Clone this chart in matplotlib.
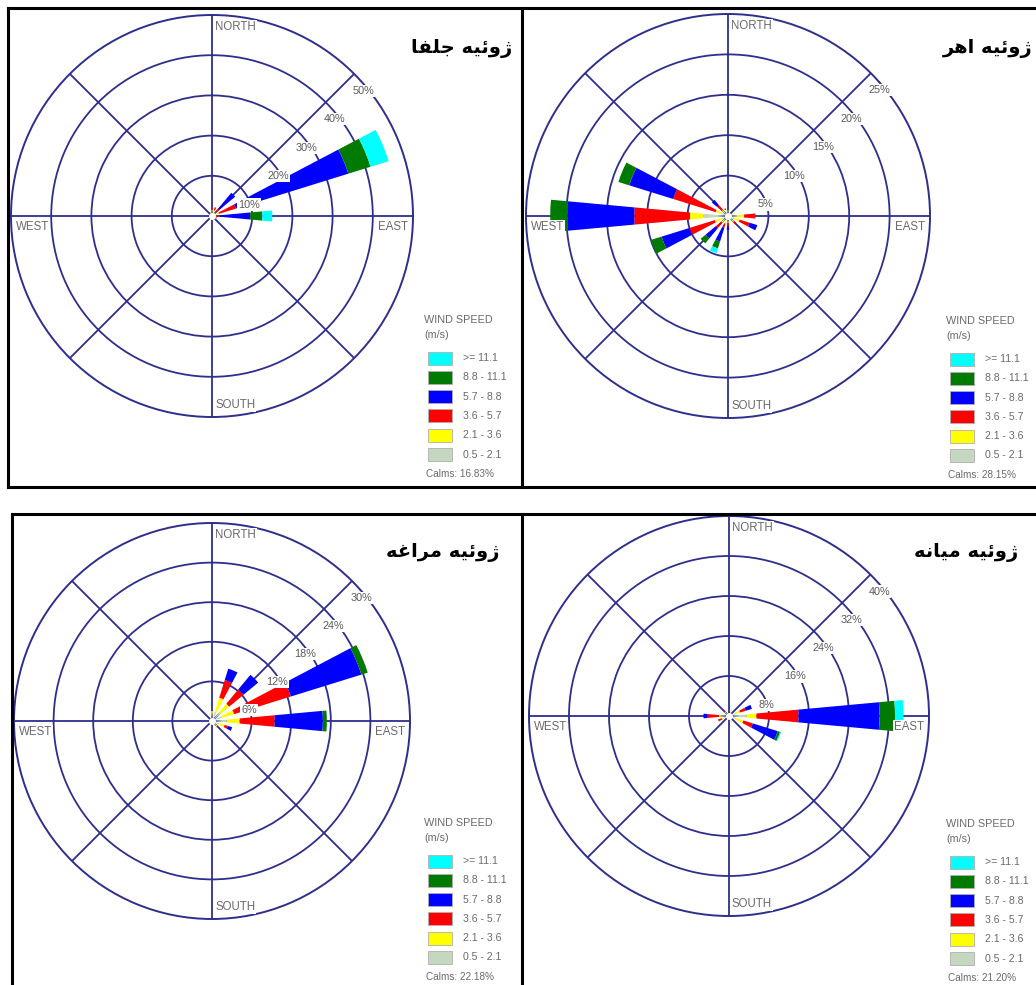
import numpy as np
import matplotlib
matplotlib.use("Agg")
import matplotlib.pyplot as plt
from matplotlib.patches import Rectangle

W, H, DPI = 1036, 985, 100

# ---------------- data ----------------
DIRECTIONS = ['N', 'NNE', 'NE', 'ENE', 'E', 'ESE', 'SE', 'SSE',
              'S', 'SSW', 'SW', 'WSW', 'W', 'WNW', 'NW', 'NNW']
# speed classes low -> high (m/s)
SPEED_CLASSES = ['0.5 - 2.1', '2.1 - 3.6', '3.6 - 5.7', '5.7 - 8.8', '8.8 - 11.1', '>= 11.1']
CLASS_COLORS = ['#c4d8c0', '#ffff00', '#ff0000', '#0000ff', '#007a00', '#00ffff']

# frequencies (%) per direction, one value per speed class (low -> high)
jolfa_freq = {
    'N':   [1.0, 0.6, 0.5, 0.0, 0.0, 0.0],
    'NNE': [0.8, 0.7, 0.8, 0.0, 0.0, 0.0],
    'NE':  [0.6, 0.6, 1.2, 5.1, 0.0, 0.0],
    'ENE': [0.8, 1.0, 4.4, 29.3, 5.8, 4.7],
    'E':   [0.6, 0.5, 0.9, 7.5, 3.0, 2.5],
    'ESE': [0.6, 0.4, 0.3, 0.0, 0.0, 0.0],
    'NNW': [0.8, 0.3, 0.0, 0.0, 0.0, 0.0],
}
ahar_freq = {
    'N':   [0.5, 0.2, 0.0, 0.0, 0.0, 0.0],
    'ENE': [0.5, 0.3, 0.0, 0.0, 0.0, 0.0],
    'E':   [1.0, 1.0, 1.4, 0.0, 0.0, 0.0],
    'ESE': [0.8, 0.7, 1.3, 1.0, 0.0, 0.0],
    'SE':  [0.6, 0.4, 0.3, 0.0, 0.0, 0.0],
    'S':   [0.6, 0.3, 0.4, 0.4, 0.0, 0.0],
    'SSW': [0.5, 0.5, 0.5, 1.8, 0.9, 0.6],
    'SW':  [0.6, 0.5, 0.9, 1.6, 0.8, 0.0],
    'WSW': [0.8, 0.9, 3.3, 3.6, 1.4, 0.0],
    'W':   [3.0, 1.7, 6.9, 8.3, 2.1, 0.0],
    'WNW': [0.8, 0.8, 5.5, 5.7, 1.4, 0.0],
    'NW':  [0.5, 0.5, 0.8, 0.8, 0.0, 0.0],
    'NNW': [0.5, 0.3, 0.2, 0.0, 0.0, 0.0],
}
maragheh_freq = {
    'N':   [1.0, 0.5, 0.0, 0.0, 0.0, 0.0],
    'NNE': [1.5, 2.2, 2.8, 1.8, 0.0, 0.0],
    'NE':  [1.5, 1.9, 2.8, 2.9, 0.0, 0.0],
    'ENE': [1.5, 2.0, 9.0, 11.2, 1.0, 0.0],
    'E':   [2.2, 2.0, 5.3, 7.3, 0.6, 0.0],
    'ESE': [1.2, 0.8, 0.5, 0.7, 0.0, 0.0],
    'SE':  [0.8, 0.3, 0.0, 0.0, 0.0, 0.0],
}
mianeh_freq = {
    'NNE': [1.0, 0.5, 0.0, 0.0, 0.0, 0.0],
    'ENE': [1.5, 0.8, 1.2, 1.3, 0.0, 0.0],
    'E':   [3.5, 2.0, 8.4, 16.2, 3.1, 1.7],
    'ESE': [1.5, 1.5, 2.0, 5.2, 0.5, 0.2],
    'SSE': [1.0, 0.5, 0.0, 0.0, 0.0, 0.0],
    'WSW': [1.0, 0.5, 0.8, 0.0, 0.0, 0.0],
    'W':   [1.5, 0.5, 2.3, 0.8, 0.0, 0.0],
    'NW':  [0.8, 0.4, 0.3, 0.0, 0.0, 0.0],
}

jolfa_rings = [10, 20, 30, 40, 50]
ahar_rings = [5, 10, 15, 20, 25]
maragheh_rings = [6, 12, 18, 24, 30]
mianeh_rings = [8, 16, 24, 32, 40]

calms = ['16.83%', '28.15%', '22.18%', '21.20%']

# Persian titles (presentation forms, visual order)
title_jolfa = "\uFE8E\uFED4\uFEE0\uFE9F \uFEEA\uFEF4\uFE8B\u0648\u0698"      # ژوئیه جلفا
title_ahar = "\uFEAE\uFEEB\u0627 \uFEEA\uFEF4\uFE8B\u0648\u0698"             # ژوئیه اهر
title_maragheh = "\uFEEA\uFECF\u0627\uFEAE\uFEE3 \uFEEA\uFEF4\uFE8B\u0648\u0698"  # ژوئیه مراغه
title_mianeh = "\uFEEA\uFEE7\uFE8E\uFEF4\uFEE3 \uFEEA\uFEF4\uFE8B\u0648\u0698"    # ژوئیه میانه

# ---------------- layout (pixels) ----------------
panels = [
    dict(freq=jolfa_freq, rings=jolfa_rings, calm=calms[0], title=title_jolfa,
         center=(212, 216), R=201, legend=(428, 320), title_xy=(512, 48), title_ha='right'),
    dict(freq=ahar_freq, rings=ahar_rings, calm=calms[1], title=title_ahar,
         center=(728, 216), R=202, legend=(950, 321), title_xy=(1033, 48), title_ha='right'),
    dict(freq=maragheh_freq, rings=maragheh_rings, calm=calms[2], title=title_maragheh,
         center=(212, 721), R=198, legend=(428, 823), title_xy=(500, 553), title_ha='right'),
    dict(freq=mianeh_freq, rings=mianeh_rings, calm=calms[3], title=title_mianeh,
         center=(729, 716), R=200, legend=(950, 824), title_xy=(1018, 553), title_ha='right'),
]

NAVY = '#2e2e8c'
LABEL_GRAY = '#6a6a6a'
PT = 72.0 / DPI  # points per pixel

fig = plt.figure(figsize=(W / DPI, H / DPI), dpi=DPI)
fig.patch.set_facecolor('white')

theta = np.deg2rad(np.arange(len(DIRECTIONS)) * 22.5)
petal_width = np.deg2rad(10.5)

for p in panels:
    cx, cy = p['center']
    R = p['R']
    ax = fig.add_axes([(cx - R) / W, 1 - (cy + R) / H, 2 * R / W, 2 * R / H],
                      projection='polar')
    ax.set_theta_zero_location('N')
    ax.set_theta_direction(-1)
    ax.set_facecolor('none')
    rings = p['rings']
    rmax = rings[-1]
    for d, vals in p['freq'].items():
        i = DIRECTIONS.index(d)
        bottom = 0.0
        for k, v in enumerate(vals):
            if v > 0:
                ax.bar(theta[i], v, width=petal_width, bottom=bottom,
                       color=CLASS_COLORS[k], edgecolor='none', linewidth=0, zorder=3)
            bottom += v
    ax.set_ylim(0, rmax)
    ax.set_yticks(rings[:-1])
    ax.set_yticklabels([])
    ax.set_xticks(np.deg2rad(np.arange(0, 360, 45)))
    ax.set_xticklabels([])
    ax.tick_params(length=0)
    ax.grid(True, color=NAVY, linewidth=1.3)
    ax.set_axisbelow(True)
    ax.spines['polar'].set_color(NAVY)
    ax.spines['polar'].set_linewidth(1.4)
    ax.plot([0], [0], 'o', color='white', ms=4, zorder=6)

    for r in rings:
        ax.annotate(f'{r}%', xy=(np.pi / 4, r), xytext=(9 * PT, -17 * PT),
                    textcoords='offset points', ha='center', va='center',
                    fontsize=7.8, family='Liberation Sans', color='#5a5a5a', zorder=7,
                    bbox=dict(boxstyle='square,pad=0.1', fc='white', ec='none'),
                    annotation_clip=False)
    dir_kw = dict(textcoords='offset points', va='center', fontsize=8.3,
                  family='Liberation Sans', color=LABEL_GRAY, zorder=7,
                  annotation_clip=False,
                  bbox=dict(boxstyle='square,pad=0.1', fc='white', ec='none'))
    ax.annotate('NORTH', xy=(0, rmax), xytext=(3 * PT, -12 * PT), ha='left', **dir_kw)
    ax.annotate('SOUTH', xy=(np.pi, rmax), xytext=(3 * PT, 12 * PT), ha='left', **dir_kw)
    ax.annotate('WEST', xy=(1.5 * np.pi, rmax), xytext=(5 * PT, -11 * PT), ha='left', **dir_kw)
    ax.annotate('EAST', xy=(0.5 * np.pi, rmax), xytext=(-5 * PT, -11 * PT), ha='right', **dir_kw)

# ---------------- overlay: frames, titles, legends ----------------
ov = fig.add_axes([0, 0, 1, 1], zorder=10)
ov.set_xlim(0, W)
ov.set_ylim(H, 0)
ov.axis('off')
ov.patch.set_alpha(0)

frame_kw = dict(color='black', lw=2.2, solid_capstyle='projecting')
ov.plot([8, 1040], [8, 8], **frame_kw)
ov.plot([8, 1040], [487, 487], **frame_kw)
ov.plot([8, 8], [8, 487], **frame_kw)
ov.plot([522, 522], [8, 487], **frame_kw)
ov.plot([12, 1040], [514, 514], **frame_kw)
ov.plot([12, 12], [514, 990], **frame_kw)
ov.plot([522, 522], [514, 990], **frame_kw)

legend_labels = SPEED_CLASSES[::-1]
legend_colors = CLASS_COLORS[::-1]
for p in panels:
    tx, ty = p['title_xy']
    ov.text(tx, ty, p['title'], ha=p['title_ha'], va='center', fontsize=14,
            family='DejaVu Sans', weight='bold', color='black')
    x0, y0 = p['legend']
    ov.text(x0 - 4, y0, 'WIND SPEED', ha='left', va='center', fontsize=7.8,
            family='Liberation Sans', color=LABEL_GRAY)
    ov.text(x0 - 4, y0 + 15, '(m/s)', ha='left', va='center', fontsize=7.8,
            family='Liberation Sans', color=LABEL_GRAY)
    for k, (lab, col) in enumerate(zip(legend_labels, legend_colors)):
        yc = y0 + 38 + k * 19.3
        ov.add_patch(Rectangle((x0, yc - 6.5), 24, 13, facecolor=col,
                               edgecolor='#b0b0b0', lw=0.6))
        ov.text(x0 + 35, yc, lab, ha='left', va='center', fontsize=7.6,
                family='Liberation Sans', color=LABEL_GRAY)
    ov.text(x0 - 2, y0 + 154, 'Calms: ' + p['calm'], ha='left', va='center', fontsize=7.2,
            family='Liberation Sans', color=LABEL_GRAY)

fig.savefig('out.png', dpi=DPI, facecolor='white')
